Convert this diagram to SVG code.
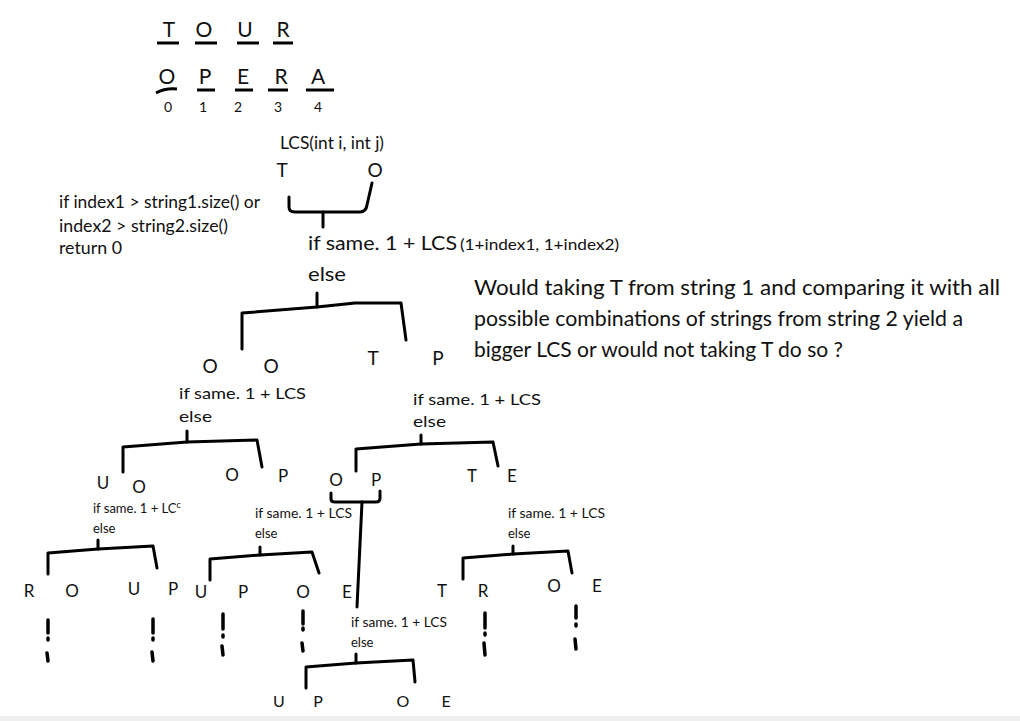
<svg xmlns="http://www.w3.org/2000/svg" width="1020" height="721" viewBox="0 0 1020 721">
<style>
text{font-family:Lato,"Liberation Sans",sans-serif;fill:#111}
.big{font-size:21px}
.idx{font-size:14px}
.l18{font-size:19px}
.l16{font-size:17px}
.t15{font-size:16px}
.t14{font-size:15px}
.t12{font-size:13px}
.mid{text-anchor:middle}
.br{fill:none;stroke:#000;stroke-width:3;stroke-linejoin:round;stroke-linecap:round}
.ul{stroke:#000;stroke-width:3;stroke-linecap:butt}
.bang{stroke:#000;stroke-width:3.5;stroke-linecap:round;fill:none}
</style>
<rect width="1020" height="721" fill="#fff"/>
<rect x="0" y="716" width="1020" height="5" fill="#efefef"/>

<g id="string1">
<text class="big mid" x="169" y="37">T</text>
<text class="big mid" x="204" y="37">O</text>
<text class="big mid" x="245" y="37">U</text>
<text class="big mid" x="283" y="37">R</text>
<line class="ul" x1="157" y1="43" x2="179" y2="43"/>
<line class="ul" x1="195" y1="43" x2="217" y2="43"/>
<line class="ul" x1="237" y1="43" x2="259" y2="43"/>
<line class="ul" x1="273" y1="43" x2="293" y2="43"/>
</g>

<g id="string2">
<text class="big mid" x="167" y="84">O</text>
<text class="big mid" x="205" y="84">P</text>
<text class="big mid" x="243" y="84">E</text>
<text class="big mid" x="281" y="84">R</text>
<text class="big mid" x="318" y="84">A</text>
<path d="M156 93 Q165 88 177 89" fill="none" stroke="#000" stroke-width="3"/>
<line class="ul" x1="197" y1="90" x2="215" y2="90"/>
<line class="ul" x1="235" y1="90" x2="253" y2="90"/>
<line class="ul" x1="268" y1="90" x2="288" y2="90"/>
<line class="ul" x1="306" y1="90" x2="334" y2="90"/>
<text class="idx mid" x="168" y="112">0</text>
<text class="idx mid" x="203" y="112">1</text>
<text class="idx mid" x="238" y="112">2</text>
<text class="idx mid" x="278" y="112">3</text>
<text class="idx mid" x="318" y="112">4</text>
</g>

<g id="base-case">
<text x="59" y="208" style="font-size:17.5px" textLength="201" lengthAdjust="spacingAndGlyphs">if index1 &gt; string1.size() or</text>
<text x="59" y="232" style="font-size:17.5px" textLength="169" lengthAdjust="spacingAndGlyphs">index2 &gt; string2.size()</text>
<text x="59" y="254" style="font-size:17.5px" textLength="63" lengthAdjust="spacingAndGlyphs">return 0</text>
</g>

<g id="root">
<text x="280" y="149" style="font-size:17px" textLength="104" lengthAdjust="spacingAndGlyphs">LCS(int i, int j)</text>
<text class="l18 mid" x="282" y="177">T</text>
<text class="l18 mid" x="375" y="177">O</text>
<text x="308" y="250" style="font-size:20px" textLength="149" lengthAdjust="spacingAndGlyphs">if same. 1 + LCS</text>
<text x="460" y="250" style="font-size:16px" textLength="159" lengthAdjust="spacingAndGlyphs">(1+index1, 1+index2)</text>
<text x="308" y="281" style="font-size:20px" textLength="38" lengthAdjust="spacingAndGlyphs">else</text>
</g>

<g id="question">
<text x="474" y="295" style="font-size:21.5px" textLength="526" lengthAdjust="spacingAndGlyphs">Would taking T from string 1 and comparing it with all</text>
<text x="474" y="326" style="font-size:21.5px" textLength="489" lengthAdjust="spacingAndGlyphs">possible combinations of strings from string 2 yield a</text>
<text x="474" y="357" style="font-size:21.5px" textLength="369" lengthAdjust="spacingAndGlyphs">bigger LCS or would not taking T do so ?</text>
</g>

<g id="level2">
<text class="l18 mid" x="210" y="373">O</text>
<text class="l18 mid" x="271" y="373">O</text>
<text class="l18 mid" x="373" y="365">T</text>
<text class="l18 mid" x="438" y="365">P</text>
</g>

<g id="level2-left">
<text class="t15" x="179" y="399" textLength="127" lengthAdjust="spacingAndGlyphs">if same. 1 + LCS</text>
<text class="t15" x="179" y="422" textLength="33" lengthAdjust="spacingAndGlyphs">else</text>
</g>
<g id="level2-right">
<text class="t14" x="413" y="405" textLength="128" lengthAdjust="spacingAndGlyphs">if same. 1 + LCS</text>
<text class="t14" x="413" y="427" textLength="33" lengthAdjust="spacingAndGlyphs">else</text>
</g>

<g id="level3">
<text class="l16 mid" x="103" y="489">U</text>
<text class="l16 mid" x="139" y="493">O</text>
<text class="l16 mid" x="232" y="481">O</text>
<text class="l16 mid" x="283" y="482">P</text>
<text class="l16 mid" x="336" y="486">O</text>
<text class="l16 mid" x="376" y="486">P</text>
<text class="l16 mid" x="472" y="482">T</text>
<text class="l16 mid" x="512" y="482">E</text>
</g>

<g id="level3-a">
<text class="t12" x="93" y="513">if same. 1 + LC<tspan style="font-size:9px" dy="-5">c</tspan></text>
<text class="t12" x="93" y="533">else</text>
</g>
<g id="level3-b">
<text class="t12" x="255" y="518" textLength="97" lengthAdjust="spacingAndGlyphs">if same. 1 + LCS</text>
<text class="t12" x="255" y="538">else</text>
</g>
<g id="level3-c">
<text class="t12" x="508" y="518" textLength="97" lengthAdjust="spacingAndGlyphs">if same. 1 + LCS</text>
<text class="t12" x="508" y="538">else</text>
</g>
<g id="level3-d">
<text class="t12" x="351" y="627" textLength="96" lengthAdjust="spacingAndGlyphs">if same. 1 + LCS</text>
<text class="t12" x="351" y="647">else</text>
</g>

<g id="level4">
<text class="l16 mid" x="29" y="597">R</text>
<text class="l16 mid" x="72" y="597">O</text>
<text class="l16 mid" x="134" y="595">U</text>
<text class="l16 mid" x="173" y="595">P</text>
<text class="l16 mid" x="201" y="598">U</text>
<text class="l16 mid" x="243" y="598">P</text>
<text class="l16 mid" x="303" y="598">O</text>
<text class="l16 mid" x="347" y="598">E</text>
<text class="l16 mid" x="442" y="597">T</text>
<text class="l16 mid" x="483" y="597">R</text>
<text class="l16 mid" x="554" y="592">O</text>
<text class="l16 mid" x="597" y="592">E</text>
</g>

<g id="level5">
<text class="t15 mid" x="279" y="707">U</text>
<text class="t15 mid" x="318" y="707">P</text>
<text class="t15 mid" x="403" y="707">O</text>
<text class="t15 mid" x="446" y="707">E</text>
</g>

<g id="connectors">
<path class="br" d="M289 197 L289 207 Q289 212 295 212 L360 212 Q366 212 367 205 L372 183"/>
<path class="br" d="M323 212 L323 227"/>
<path class="br" d="M242 349 L242 313 L317 307 L355 303 L401 303 L406 340"/>
<path class="br" d="M317 307 L317 293"/>
<path class="br" d="M123 472 L123 447 L187 442 L257 440 L262 467"/>
<path class="br" d="M187 442 L187 431"/>
<path class="br" d="M356 471 L356 449 L421 444 L493 442 L498 466"/>
<path class="br" d="M421 444 L421 435"/>
<path class="br" d="M331 493 L331 499 Q331 502 335 502 L376 502 Q380 502 380 498 L380 491"/>
<path class="br" d="M362 502 L357 607"/>
<path class="br" d="M48 574 L48 553 L98 549 L153 546 L157 568"/>
<path class="br" d="M98 549 L98 540"/>
<path class="br" d="M210 580 L210 559 L260 555 L312 552 L319 573"/>
<path class="br" d="M260 555 L260 547"/>
<path class="br" d="M463 579 L463 558 L513 554 L568 551 L572 573"/>
<path class="br" d="M513 554 L513 546"/>
<path class="br" d="M306 688 L306 667 L356 663 L413 660 L415 682"/>
<path class="br" d="M356 663 L356 654"/>
<g class="bang">
<path d="M48 620 L48 633 M48 638 L48 640 M47 653 L48 661"/>
<path d="M153 619 L153 633 M153 638 L153 640 M152 652 L153 661"/>
<path d="M223 614 L223 629 M223 635 L223 637 M222 646 L223 655"/>
<path d="M303 611 L303 624 M303 628 L303 630 M302 643 L303 651"/>
<path d="M485 613 L485 628 M485 633 L485 635 M484 643 L485 655"/>
<path d="M576 606 L576 618 M576 624 L576 626 M575 639 L576 649"/>
</g>
</g>
</svg>
